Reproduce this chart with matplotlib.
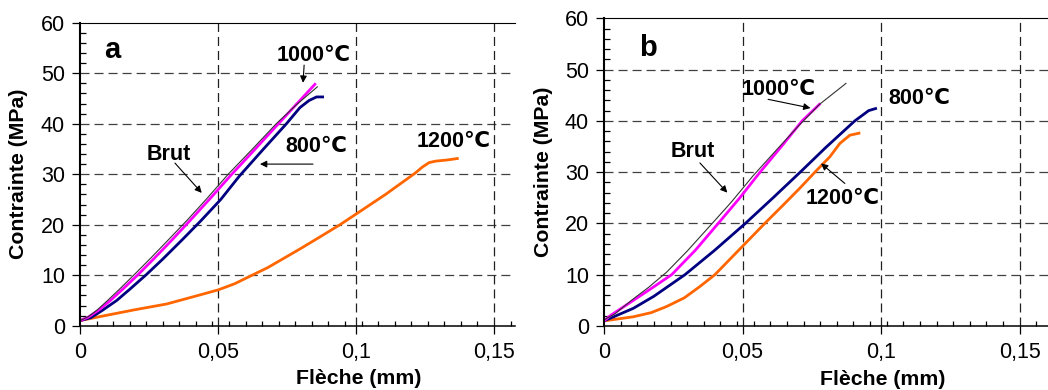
import numpy as np
import matplotlib
matplotlib.use('Agg')
import matplotlib.pyplot as plt
from matplotlib.ticker import MultipleLocator

plt.rcParams['font.family'] = ['Liberation Sans', 'DejaVu Sans']
plt.rcParams['lines.scale_dashes'] = False

# panneau a
brut_a_x = [0, 0.003, 0.006, 0.010, 0.015, 0.020, 0.026, 0.032, 0.039, 0.046, 0.0537, 0.0625, 0.0711, 0.0785, 0.086]
brut_a_y = [1, 1.8, 3.0, 5.0, 7.6, 10.3, 13.6, 17.0, 21.0, 25.2, 30, 35, 40, 43.8, 47.3]
t1000_a_x = [0, 0.003, 0.007, 0.011, 0.016, 0.021, 0.027, 0.033, 0.040, 0.0475, 0.055, 0.0635, 0.0719, 0.0785, 0.0851]
t1000_a_y = [1, 1.7, 3.2, 5.0, 7.5, 10.1, 13.4, 16.8, 20.9, 25.4, 30, 35, 40, 43.9, 47.8]
t800_a_x = [0, 0.004, 0.008, 0.0133, 0.018, 0.024, 0.030, 0.037, 0.044, 0.051, 0.0577, 0.0665,
            0.0748, 0.0797, 0.083, 0.0857, 0.0879]
t800_a_y = [1, 1.6, 3.0, 5.0, 7.2, 10.1, 13.2, 17.0, 20.9, 25, 29.6, 35, 40, 43.2, 44.6, 45.3, 45.3]
t1200_a_x = [0, 0.0072, 0.0193, 0.0314, 0.0435, 0.0501, 0.056, 0.0616, 0.068, 0.0737, 0.080, 0.087,
             0.0942, 0.1, 0.1107, 0.1214, 0.124, 0.1265, 0.129, 0.1328, 0.1367]
t1200_a_y = [1, 1.8, 3.1, 4.3, 6.1, 7.1, 8.3, 9.8, 11.5, 13.3, 15.3, 17.6,
             20, 22.1, 26, 30.2, 31.4, 32.3, 32.6, 32.8, 33.1]

# panneau b
brut_b_x = [0, 0.004, 0.0106, 0.016, 0.0226, 0.030, 0.0382, 0.046, 0.0538, 0.062, 0.0705, 0.0777, 0.0873]
brut_b_y = [1.2, 2.4, 5.3, 7.5, 10.5, 14.6, 19.5, 24.2, 29.3, 34.2, 39.2, 43.2, 47.3]
t1000_b_x = [0, 0.0022, 0.0106, 0.017, 0.0244, 0.033, 0.0412, 0.049, 0.0563, 0.064, 0.0715, 0.0777]
t1000_b_y = [1, 2.0, 5.0, 7.3, 10, 14.8, 20, 25, 30, 35, 40, 43.2]
t800_b_x = [0, 0.0022, 0.0106, 0.018, 0.0292, 0.040, 0.051, 0.061, 0.0708, 0.080, 0.0905, 0.0955, 0.098]
t800_b_y = [1, 1.5, 3.45, 5.8, 10, 14.8, 20, 25, 30, 34.8, 40, 42, 42.4]
t1200_b_x = [0, 0.0106, 0.017, 0.0226, 0.029, 0.0346, 0.040, 0.049, 0.058, 0.0645, 0.0707, 0.0761,
             0.0815, 0.0851, 0.0887, 0.092]
t1200_b_y = [1, 1.8, 2.6, 3.8, 5.5, 7.7, 10, 15, 20, 23.5, 26.9, 30, 33, 35.6, 37.2, 37.6]

xticks = [0, 0.05, 0.1, 0.15]
xticklabels = ['0', '0,05', '0,1', '0,15']
yticks = [0, 10, 20, 30, 40, 50, 60]

fig = plt.figure(figsize=(10.48, 3.90), dpi=100)
ax1 = fig.add_axes([80/1048, 64.3/390, 435/1048, 303/390])
ax2 = fig.add_axes([604/1048, 64/390, 444/1048, 307.7/390])

def habiller(ax, xmax, lettre, lettre_pos, xlab_pos, ylab_pos):
    ax.set_xlim(0, xmax)
    ax.set_ylim(0, 60)
    ax.set_xticks(xticks)
    ax.set_xticklabels(xticklabels)
    ax.set_yticks(yticks)
    ax.xaxis.set_minor_locator(MultipleLocator(0.006))
    ax.yaxis.set_minor_locator(MultipleLocator(2))
    ax.tick_params(axis='both', which='major', direction='out', length=5.8, width=0.9,
                   labelsize=15.5)
    ax.tick_params(axis='x', which='major', pad=6)
    ax.tick_params(axis='y', which='major', pad=5)
    ax.tick_params(axis='x', which='minor', direction='in', length=3.5, width=0.9)
    ax.tick_params(axis='y', which='minor', direction='in', length=4.3, width=0.9)
    for yv in [10, 20, 30, 40, 50]:
        ax.axhline(yv, color='#404040', lw=0.9, ls=(0, (6.5, 3.6)), zorder=0)
    for xv in [0.05, 0.1, 0.15]:
        ax.axvline(xv, color='#202020', lw=0.9, ls=(0, (6.5, 3.6)), zorder=0)
    ax.spines['right'].set_visible(False)
    ax.spines['left'].set_linewidth(1.5)
    ax.spines['bottom'].set_linewidth(1.1)
    ax.spines['top'].set_linewidth(0.8)
    ax.set_xlabel('Flèche (mm)', fontsize=15.3, fontweight='bold')
    ax.xaxis.set_label_coords(*xlab_pos)
    ax.xaxis.label.set_va('center')
    ax.set_ylabel('Contrainte (MPa)', fontsize=15.3, fontweight='bold')
    ax.yaxis.set_label_coords(*ylab_pos)
    ax.yaxis.label.set_va('center')
    ax.text(lettre_pos[0], lettre_pos[1], lettre, fontsize=21, fontweight='bold',
            ha='center', va='center')

def annoter(ax, texte, pos, fleche=None):
    ax.text(pos[0], pos[1], texte, fontsize=15.5, fontweight='bold', ha='center', va='center')
    if fleche is not None:
        debut, pointe = fleche
        ax.annotate('', xy=pointe, xytext=debut,
                    arrowprops=dict(arrowstyle='-|>', color='k', lw=0.8, mutation_scale=10,
                                    shrinkA=0, shrinkB=0))

# a
ax1.plot(t1200_a_x, t1200_a_y, color='#FF6600', lw=2)
ax1.plot(t800_a_x, t800_a_y, color='#000080', lw=2)
ax1.plot(t1000_a_x, t1000_a_y, color='#FF00FF', lw=2)
ax1.plot(brut_a_x, brut_a_y, color='#333333', lw=0.8)
habiller(ax1, 0.1576, 'a', (0.0116, 54.6), (0.64, -0.173), (-0.1425, 0.5))
annoter(ax1, '1000℃', (0.0848, 53.6), ((0.0812, 51.6), (0.0808, 48.1)))
annoter(ax1, '800℃', (0.0855, 35.4), ((0.0844, 32.0), (0.0652, 32.0)))
annoter(ax1, 'Brut', (0.0321, 34.0), ((0.0344, 32.2), (0.0441, 26.3)))
annoter(ax1, '1200℃', (0.1355, 36.4))

# b
ax2.plot(t1200_b_x, t1200_b_y, color='#FF6600', lw=2)
ax2.plot(t800_b_x, t800_b_y, color='#000080', lw=2)
ax2.plot(t1000_b_x, t1000_b_y, color='#FF00FF', lw=2)
ax2.plot(brut_b_x, brut_b_y, color='#333333', lw=0.8)
habiller(ax2, 0.1602, 'b', (0.016, 54.2), (0.628, -0.175), (-0.137, 0.5))
annoter(ax2, '1000℃', (0.0631, 46.2), ((0.0592, 44.2), (0.0745, 42.5)))
annoter(ax2, '800℃', (0.1138, 44.3))
annoter(ax2, 'Brut', (0.0322, 34.1), ((0.0346, 31.8), (0.0445, 26.0)))
annoter(ax2, '1200℃', (0.0861, 24.9), ((0.0869, 27.8), (0.0783, 31.7)))

fig.savefig('out.png', dpi=100)
